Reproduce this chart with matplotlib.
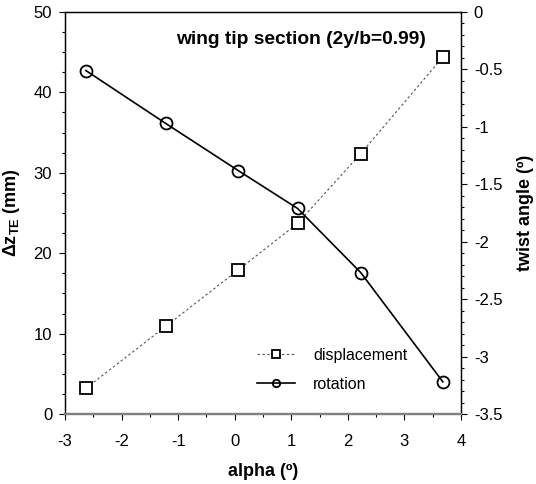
import matplotlib
matplotlib.use("Agg")
import matplotlib.pyplot as plt
from matplotlib.ticker import MultipleLocator, FormatStrFormatter

plt.rcParams['font.family'] = ['Liberation Sans', 'DejaVu Sans']
plt.rcParams['mathtext.fontset'] = 'custom'
plt.rcParams['mathtext.rm'] = 'Liberation Sans'
plt.rcParams['mathtext.bf'] = 'Liberation Sans:bold'
plt.rcParams['mathtext.it'] = 'Liberation Sans:italic'

alpha = [-2.63, -1.22, 0.06, 1.11, 2.23, 3.68]
displacement = [3.2, 10.9, 17.9, 23.7, 32.4, 44.4]
rotation = [-0.51, -0.97, -1.38, -1.71, -2.27, -3.22]

fig = plt.figure(figsize=(5.36, 4.84), dpi=100)
ax = fig.add_axes([65/536, 1-414/484, (461-65)/536, (414-12)/484])
ax2 = ax.twinx()

l1, = ax.plot(alpha, displacement, linestyle=(0, (2.2, 2.2)), color='#555555', lw=0.8,
              marker='s', ms=8.6, mfc='white', mec='black', mew=1.3, label='displacement')
l2, = ax2.plot(alpha, rotation, linestyle='-', color='black', lw=1.2,
               marker='o', ms=8.6, mfc='none', mec='black', mew=1.3, label='rotation')

ax.set_xlim(-3, 4)
ax.set_ylim(0, 50)
ax2.set_ylim(-3.5, 0)

ax.xaxis.set_major_locator(MultipleLocator(1))
ax.xaxis.set_minor_locator(MultipleLocator(0.5))
ax.yaxis.set_major_locator(MultipleLocator(10))
ax.yaxis.set_minor_locator(MultipleLocator(2.5))
ax2.yaxis.set_major_locator(MultipleLocator(0.5))
ax2.yaxis.set_minor_locator(MultipleLocator(0.1))
ax2.yaxis.set_major_formatter(FormatStrFormatter('%g'))
ax.xaxis.set_major_formatter(FormatStrFormatter('%g'))

for a in (ax, ax2):
    a.tick_params(which='major', direction='out', length=4.2, width=0.8, labelsize=12)
    a.tick_params(which='minor', direction='out', length=2.4, width=0.8)
    for s in a.spines.values():
        s.set_linewidth(0.9)
    a.spines['bottom'].set_color('#808080')
    a.spines['bottom'].set_linewidth(1.6)
ax.tick_params(axis='x', which='both', pad=10)
ax.tick_params(axis='y', which='major', pad=5)
ax2.tick_params(axis='y', which='major', pad=5)

fig.text(263/536, 1-472/484, 'alpha (º)', fontsize=13, fontweight='bold',
         ha='center', va='center')
fig.text(12/536, 1-213/484, r'$\mathbf{\Delta z_{TE}}$ (mm)', fontsize=13, fontweight='bold',
         ha='center', va='center', rotation=90)
fig.text(525/536, 1-213/484, 'twist angle (º)', fontsize=13, fontweight='bold',
         ha='center', va='center', rotation=90)

fig.text(301/536, 1-40/484, 'wing tip section (2y/b=0.99)', fontsize=13.8, fontweight='bold',
         ha='center', va='center')

leg = fig.legend(handles=[l1, l2], loc='upper left', bbox_to_anchor=(257/536, 1-348/484),
                 frameon=False, fontsize=11.5, markerscale=0.62, handlelength=2.4,
                 handletextpad=1.1, labelspacing=0.85, borderpad=0, borderaxespad=0)

fig.savefig('out.png', dpi=100)
